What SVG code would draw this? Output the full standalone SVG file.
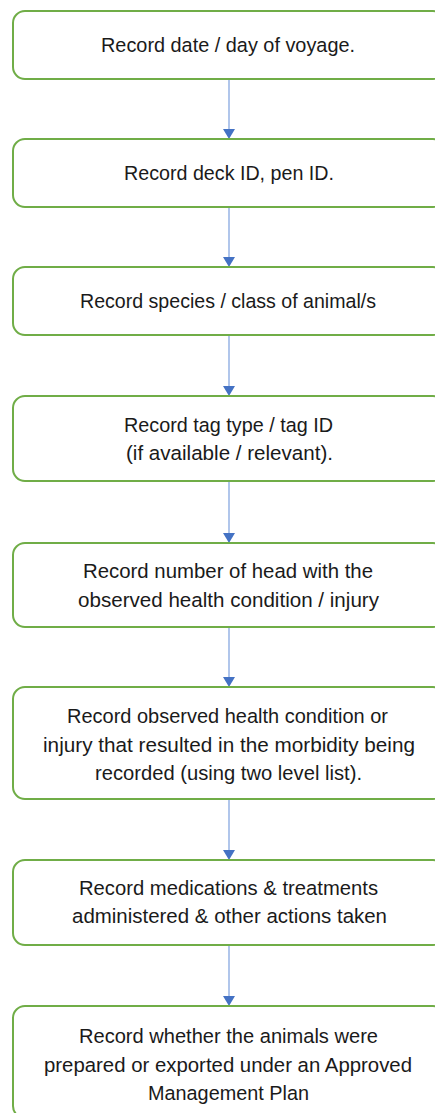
<svg xmlns="http://www.w3.org/2000/svg" width="435" height="1113" viewBox="0 0 435 1113">
  <style>
    .box { fill: #ffffff; stroke: #70AD47; stroke-width: 2; }
    .lbl { font-family: "Liberation Sans", Arial, sans-serif; font-size: 20.5px; fill: #1a1a1a; text-anchor: middle; }
    .edge { stroke: #9DB8E6; stroke-width: 1.6; fill: none; }
    .head { fill: #4472C4; }
  </style>
  <defs>
    <path id="ah" class="head" d="M -6 -10 L 6 -10 L 0 0 Z"/>
  </defs>
  <rect width="435" height="1113" fill="#ffffff"/>

  <!-- connectors between consecutive steps -->
  <g id="connectors">
    <line class="edge" x1="229" y1="79" x2="229" y2="130"/>
    <use href="#ah" x="229" y="139"/>
    <line class="edge" x1="229" y1="207" x2="229" y2="258"/>
    <use href="#ah" x="229" y="267"/>
    <line class="edge" x1="229" y1="335" x2="229" y2="387"/>
    <use href="#ah" x="229" y="396"/>
    <line class="edge" x1="229" y1="481" x2="229" y2="534"/>
    <use href="#ah" x="229" y="543"/>
    <line class="edge" x1="229" y1="627" x2="229" y2="678"/>
    <use href="#ah" x="229" y="687"/>
    <line class="edge" x1="229" y1="799" x2="229" y2="851"/>
    <use href="#ah" x="229" y="860"/>
    <line class="edge" x1="229" y1="945" x2="229" y2="997"/>
    <use href="#ah" x="229" y="1006"/>
  </g>

  <g id="step1">
    <rect class="box" x="13" y="11" width="432" height="68" rx="12"/>
    <text class="lbl" x="228" y="52" textLength="254" lengthAdjust="spacingAndGlyphs">Record date / day of voyage.</text>
  </g>

  <g id="step2">
    <rect class="box" x="13" y="139" width="432" height="68" rx="12"/>
    <text class="lbl" x="229" y="180" textLength="210" lengthAdjust="spacingAndGlyphs">Record deck ID, pen ID.</text>
  </g>

  <g id="step3">
    <rect class="box" x="13" y="267" width="432" height="68" rx="12"/>
    <text class="lbl" x="228" y="308" textLength="296" lengthAdjust="spacingAndGlyphs">Record species / class of animal/s</text>
  </g>

  <g id="step4">
    <rect class="box" x="13" y="396" width="432" height="85" rx="12"/>
    <text class="lbl" x="228.5" y="431.5" textLength="209" lengthAdjust="spacingAndGlyphs">Record tag type / tag ID</text>
    <text class="lbl" x="229.5" y="459.5" textLength="207" lengthAdjust="spacingAndGlyphs">(if available / relevant).</text>
  </g>

  <g id="step5">
    <rect class="box" x="13" y="543" width="432" height="84" rx="12"/>
    <text class="lbl" x="228" y="578" textLength="290" lengthAdjust="spacingAndGlyphs">Record number of head with the</text>
    <text class="lbl" x="228.5" y="606.5" textLength="301" lengthAdjust="spacingAndGlyphs">observed health condition / injury</text>
  </g>

  <g id="step6">
    <rect class="box" x="13" y="687" width="432" height="112" rx="12"/>
    <text class="lbl" x="227.5" y="723" textLength="321" lengthAdjust="spacingAndGlyphs">Record observed health condition or</text>
    <text class="lbl" x="229" y="751.5" textLength="372" lengthAdjust="spacingAndGlyphs">injury that resulted in the morbidity being</text>
    <text class="lbl" x="228.5" y="780" textLength="267" lengthAdjust="spacingAndGlyphs">recorded (using two level list).</text>
  </g>

  <g id="step7">
    <rect class="box" x="13" y="860" width="432" height="85" rx="12"/>
    <text class="lbl" x="228.5" y="895" textLength="299" lengthAdjust="spacingAndGlyphs">Record medications &amp; treatments</text>
    <text class="lbl" x="229.5" y="923" textLength="315" lengthAdjust="spacingAndGlyphs">administered &amp; other actions taken</text>
  </g>

  <g id="step8">
    <rect class="box" x="13" y="1006" width="432" height="112" rx="12"/>
    <text class="lbl" x="228.5" y="1043" textLength="299" lengthAdjust="spacingAndGlyphs">Record whether the animals were</text>
    <text class="lbl" x="228" y="1071.5" textLength="368" lengthAdjust="spacingAndGlyphs">prepared or exported under an Approved</text>
    <text class="lbl" x="228.5" y="1100" textLength="161" lengthAdjust="spacingAndGlyphs">Management Plan</text>
  </g>
</svg>
